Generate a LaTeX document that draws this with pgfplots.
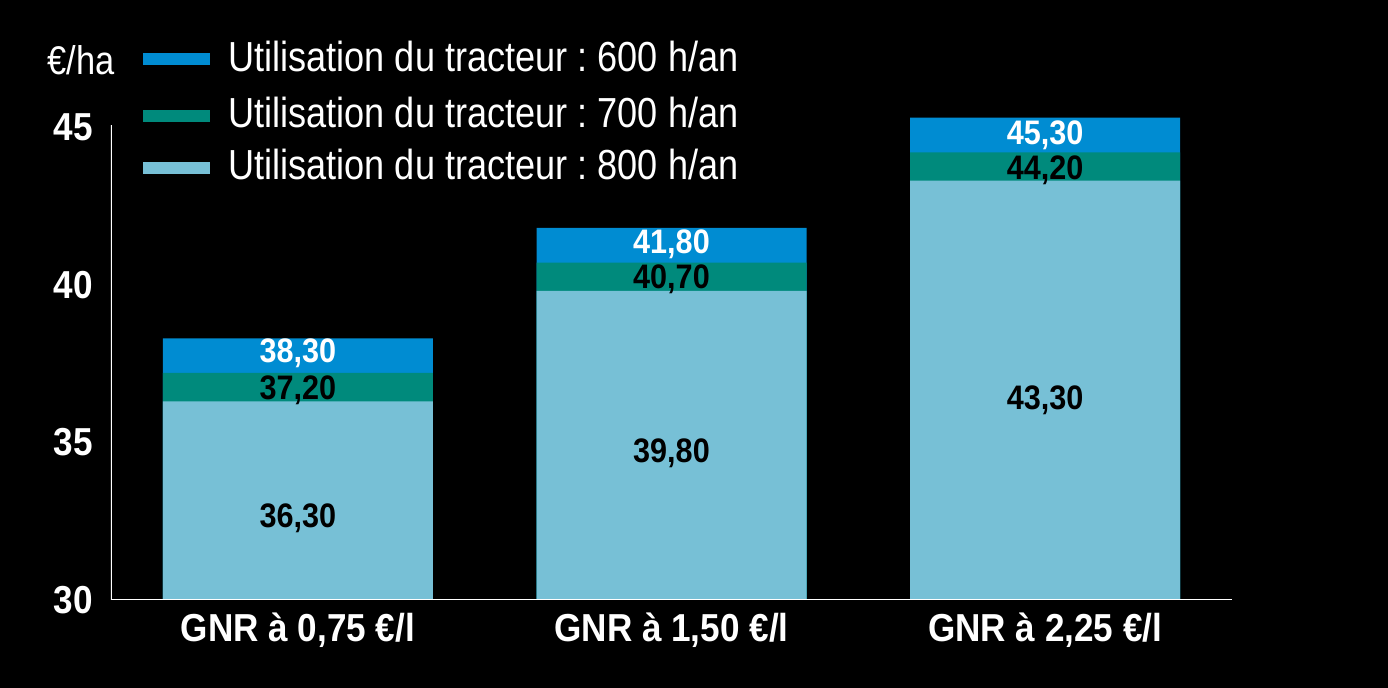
\documentclass[border=0pt]{standalone}
\usepackage{fontspec}
\setmainfont{Liberation Sans}[FakeStretch=0.86]
\newfontfamily\bnrw{Liberation Sans}[FakeStretch=0.9]
\usepackage{pgfplots}
\pgfplotsset{compat=1.18}
\definecolor{cA}{HTML}{008CD2}
\definecolor{cB}{HTML}{008A7C}
\definecolor{cC}{HTML}{77C0D6}
\newcommand{\vl}{\bnrw\bfseries\fontsize{17}{17}\selectfont}
\frenchspacing
\begin{document}
\begin{tikzpicture}
\fill[black, use as bounding box] (-55.5pt,-44pt) rectangle (638.5pt,300pt);
\begin{axis}[
  at={(0,0)}, anchor=south west,
  scale only axis, width=560.5pt, height=252.24pt,
  xmin=-0.5, xmax=2.5, ymin=30, ymax=46,
  axis line style={draw=none}, major tick length=0pt,
  xtick={0,1,2},
  xticklabels={{GNR à 0,75 €/l}, {GNR à 1,50 €/l}, {GNR à 2,25 €/l}},
  xticklabel style={anchor=base, yshift=-21pt, inner sep=0pt, text=white,
    font=\bnrw\bfseries\fontsize{19.5}{20}\selectfont},
  ytick={30,35,40,45},
  /pgf/number format/assume math mode=true,
  yticklabel style={anchor=east, xshift=-9pt, inner sep=0pt, text=white,
    font=\bnrw\bfseries\fontsize{19.5}{20}\selectfont},
  ybar, bar width=135pt, bar shift=0pt,
]
\addplot[fill=cA, draw=none] coordinates {(0,38.3) (1,41.8) (2,45.3)};
\addplot[fill=cB, draw=none] coordinates {(0,37.2) (1,40.7) (2,44.2)};
\addplot[fill=cC, draw=none] coordinates {(0,36.3) (1,39.8) (2,43.3)};
\draw[white, line width=0.6pt] (axis cs:-0.5,45.06) -- (axis cs:-0.5,30) -- (axis cs:2.5,30);
\node[anchor=base, inner sep=0pt, text=white, font=\vl] at (axis cs:0,37.517) {38,30};
\node[anchor=base, inner sep=0pt, text=black, font=\vl] at (axis cs:0,36.343) {37,20};
\node[anchor=base, inner sep=0pt, text=black, font=\vl] at (axis cs:0,32.284) {36,30};
\node[anchor=base, inner sep=0pt, text=white, font=\vl] at (axis cs:1,40.974) {41,80};
\node[anchor=base, inner sep=0pt, text=black, font=\vl] at (axis cs:1,39.864) {40,70};
\node[anchor=base, inner sep=0pt, text=black, font=\vl] at (axis cs:1,34.345) {39,80};
\node[anchor=base, inner sep=0pt, text=white, font=\vl] at (axis cs:2,44.431) {45,30};
\node[anchor=base, inner sep=0pt, text=black, font=\vl] at (axis cs:2,43.321) {44,20};
\node[anchor=base, inner sep=0pt, text=black, font=\vl] at (axis cs:2,36.026) {43,30};
\end{axis}
% legend and unit
\node[anchor=base west, inner sep=0pt, text=white, font=\fontsize{20}{20}\selectfont] at (-32pt,262.5pt) {€/ha};
\fill[cA] (16pt,267.5pt) rectangle (49.5pt,273.5pt);
\fill[cB] (16pt,238.75pt) rectangle (49.5pt,244.75pt);
\fill[cC] (16pt,212.75pt) rectangle (49.5pt,218.75pt);
\node[anchor=base west, inner sep=0pt, text=white, font=\fontsize{21}{21}\selectfont] at (58.5pt,264pt) {Utilisation du tracteur : 600 h/an};
\node[anchor=base west, inner sep=0pt, text=white, font=\fontsize{21}{21}\selectfont] at (58.5pt,236pt) {Utilisation du tracteur : 700 h/an};
\node[anchor=base west, inner sep=0pt, text=white, font=\fontsize{21}{21}\selectfont] at (58.5pt,210pt) {Utilisation du tracteur : 800 h/an};
\end{tikzpicture}
\end{document}
